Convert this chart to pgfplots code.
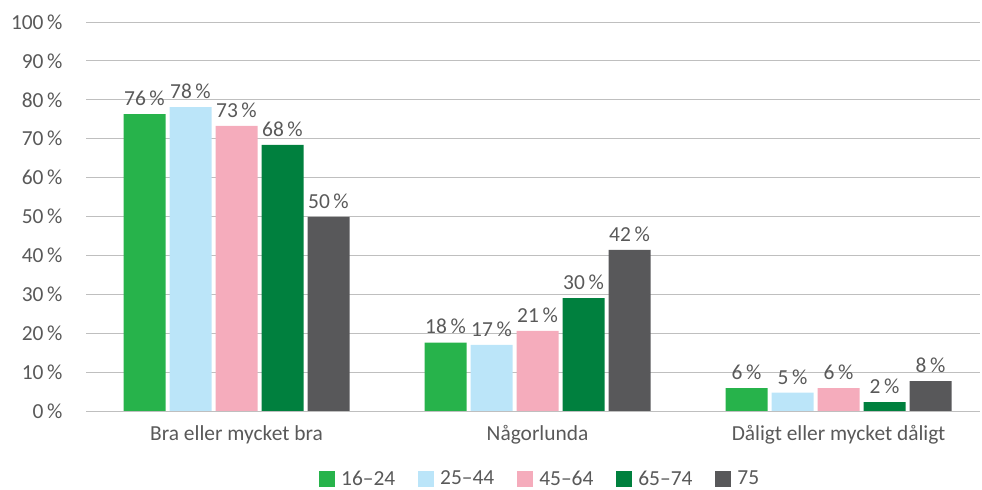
\documentclass[border=0pt]{standalone}
\usepackage{pgfplots}
\pgfplotsset{compat=1.18}
\usepackage{fontspec}
\setmainfont{Carlito}
\definecolor{cA}{HTML}{27B34B}
\definecolor{cB}{HTML}{BBE5F9}
\definecolor{cC}{HTML}{F5ACBC}
\definecolor{cD}{HTML}{00803E}
\definecolor{cE}{HTML}{58585A}
\definecolor{txt}{HTML}{595959}
\definecolor{grid}{HTML}{D9D9D9}
\begin{document}
\begin{tikzpicture}[x=1bp,y=1bp]
\useasboundingbox (0,0) rectangle (982,490);
\begin{axis}[
  at={(86bp,79bp)}, anchor=south west,
  scale only axis, width=894bp, height=389bp,
  ybar=4bp, bar width=42bp,
  xmin=-0.5, xmax=2.47, ymin=0, ymax=100,
  xtick={0,1,2}, xticklabels={Bra eller mycket bra, Någorlunda, Dåligt eller mycket dåligt},
  ytick={0,10,...,100},
  yticklabel={\pgfmathprintnumber{\tick}\,\%},
  /pgf/number format/assume math mode=true,
  xmajorgrids=false, ymajorgrids=true, grid style={grid, line width=0.9bp},
  axis line style={draw=none},
  major tick length=0pt,
  tick label style={font=\fontsize{21.5}{24}\selectfont, text=txt},
  yticklabel style={xshift=-20bp},
  xticklabel style={yshift=-11bp},
  point meta=explicit symbolic,
  nodes near coords,
  nodes near coords style={font=\fontsize{21.5}{24}\selectfont, text=txt, yshift=5bp},
  legend columns=5,
  legend style={draw=none, at={(0.508,-0.174)}, anchor=center, font=\fontsize{21.5}{24}\selectfont, text=txt,
    inner sep=0pt, nodes={inner ysep=0bp},
    /tikz/every odd column/.append style={column sep=4bp},
    /tikz/every even column/.append style={column sep=21bp}},
  legend image code/.code={\fill[#1] (0bp,-8bp) rectangle (16bp,8bp);},
]
\addplot[fill=cA, draw=none] coordinates {(0,76.3) [76\,\%] (1,17.6) [18\,\%] (2,5.9) [6\,\%]};
\addplot[fill=cB, draw=none] coordinates {(0,78.1) [78\,\%] (1,17.0) [17\,\%] (2,4.7) [5\,\%]};
\addplot[fill=cC, draw=none] coordinates {(0,73.3) [73\,\%] (1,20.6) [21\,\%] (2,5.9) [6\,\%]};
\addplot[fill=cD, draw=none] coordinates {(0,68.4) [68\,\%] (1,29.0) [30\,\%] (2,2.3) [2\,\%]};
\addplot[fill=cE, draw=none] coordinates {(0,49.9) [50\,\%] (1,41.4) [42\,\%] (2,7.7) [8\,\%]};
\legend{16–24, 25–44, 45–64, 65–74, 75}
\end{axis}
\end{tikzpicture}
\end{document}
